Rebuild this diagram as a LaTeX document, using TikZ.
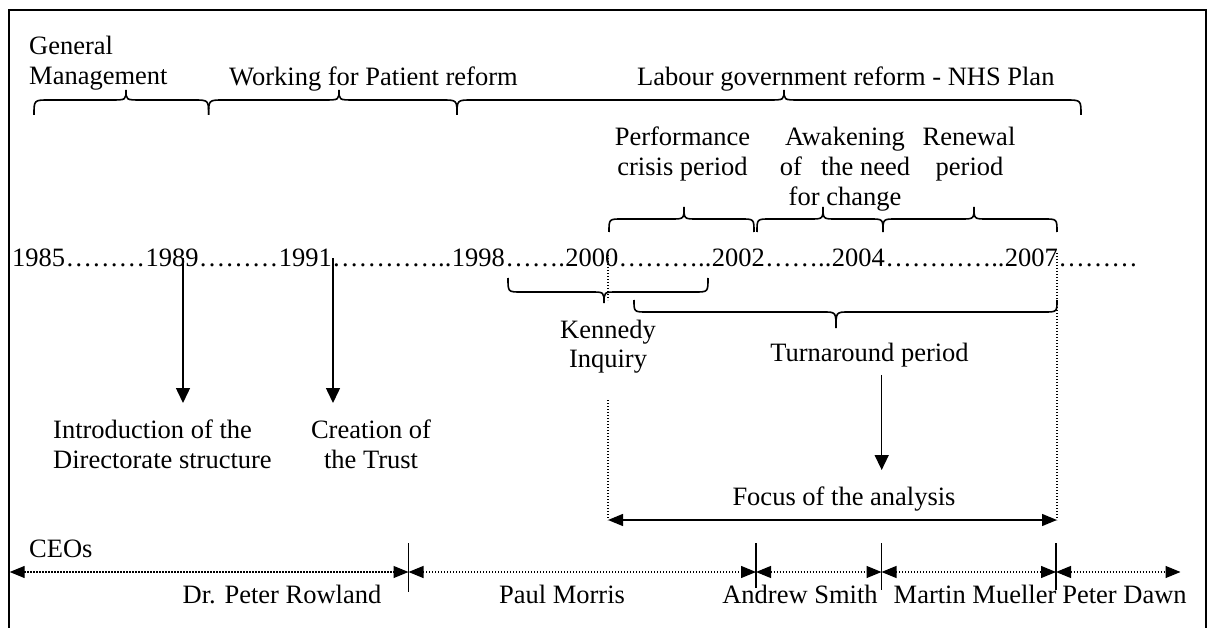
\documentclass[tikz,border=0pt]{standalone}
\usepackage{fontspec}
\setmainfont{Liberation Serif}
\usetikzlibrary{arrows.meta}
\newcommand{\wbrace}[7]{%
  \draw[brc] (#1,#4) .. controls (#1,#5) .. ({#1+#7},#5) -- ({#3-#7},#5)
    .. controls (#3,#5) .. (#3,#6) .. controls (#3,#5) .. ({#3+#7},#5)
    -- ({#2-#7},#5) .. controls (#2,#5) .. (#2,#4);}
\begin{document}
\begin{tikzpicture}[x=1pt, y=-1pt,
  txt/.style={font=\fontsize{26.5}{30}\selectfont, inner sep=0pt, anchor=base},
  ltxt/.style={txt, anchor=base west},
  brc/.style={line width=1.6pt},
  frame/.style={line width=1.6pt},
  arr/.style={line width=1.5pt, -{Triangle[length=15pt,width=14pt]}},
  focus/.style={line width=1.3pt, {Triangle[length=15pt,width=12pt]}-{Triangle[length=15pt,width=12pt]}},
  ceo/.style={line width=1.2pt, dash pattern=on 1.2pt off 1.8pt, {Triangle[length=15pt,width=12pt]}-{Triangle[length=15pt,width=12pt]}},
  guide/.style={line width=1.2pt, dash pattern=on 1.2pt off 1.8pt},
  tick/.style={line width=1.5pt}]
\useasboundingbox (0,0) rectangle (1213,628);
\draw[frame] (9,628) -- (9,10) -- (1206,10) -- (1206,628);
% top level
\node[ltxt] (gen) at (29,55) {General};
\node[ltxt] (mgmt) at (29,85) {Management};
\node[ltxt] (wfp) at (229,86) {Working for Patient reform};
\node[ltxt] (lab) at (637,86) {Labour government reform - NHS Plan};
\wbrace{34}{208.6}{126}{115}{100}{90}{15}
\wbrace{208.6}{457}{339}{115}{100}{90}{15}
\wbrace{457}{1081}{784}{115}{100}{90}{15}
% second level
\node[txt] (perf1) at (682.5,146) {Performance};
\node[txt] (perf2) at (682.5,176) {crisis period};
\node[txt] (awk1) at (845,146) {Awakening};
\node[txt] (awk2) at (845,176) {of\hspace{19pt}the need};
\node[txt] (awk3) at (845,206) {for change};
\node[txt] (ren1) at (969,146) {Renewal};
\node[txt] (ren2) at (969.5,176) {period};
\wbrace{609}{754}{684}{232}{219}{207}{13}
\wbrace{757}{883}{823}{232}{219}{207}{13}
\wbrace{883}{1057}{974}{232}{219}{207}{13}
% year line
\node[ltxt] (y1985) at (12,267) {1985};
\node[ltxt] (d1) at (y1985.base east) {………};
\node[ltxt] (y1989) at (d1.base east) {1989};
\node[ltxt] (d2) at (y1989.base east) {………};
\node[ltxt] (y1991) at (d2.base east) {1991};
\node[ltxt] (d3) at (y1991.base east) {…………..};
\node[ltxt] (y1998) at (d3.base east) {1998};
\node[ltxt] (d4) at (y1998.base east) {…….};
\node[ltxt] (y2000) at (d4.base east) {2000};
\node[ltxt] (d5) at (y2000.base east) {………..};
\node[ltxt] (y2002) at (d5.base east) {2002};
\node[ltxt] (d6) at (y2002.base east) {……..};
\node[ltxt] (y2004) at (d6.base east) {2004};
\node[ltxt] (d7) at (y2004.base east) {…………..};
\node[ltxt] (y2007) at (d7.base east) {2007};
\node[ltxt] (d8) at (y2007.base east) {………};
% lower braces
\wbrace{508}{708}{604}{278}{292}{303}{13}
\wbrace{634}{1057}{836}{300}{312}{328}{13}
\node[txt] (ken1) at (608,338) {Kennedy};
\node[txt] (ken2) at (608,367) {Inquiry};
\node[txt] (turn) at (869.5,361) {Turnaround period};
% focus
\coordinate (f1) at (608,520);
\coordinate (f2) at (1057,520);
\coordinate (g1t) at (608,255);
\coordinate (g1b) at (608,300);
\coordinate (g1c) at (608,400);
\coordinate (g2t) at (1057,253);
\draw[guide] (g1t) -- (g1b);
\draw[guide] (g1c) -- (f1);
\draw[guide] (g2t) -- (f2);
\node[txt] (focus) at (844,505) {Focus of the analysis};
\draw[focus] (f1) -- (f2);
\coordinate (a3e) at (881.7,470);
\draw[arr, shorten <=8pt] (turn.south -| a3e) -- (a3e);
% events
\node[ltxt] (intro1) at (53,438) {Introduction of the};
\node[ltxt] (intro2) at (53,468) {Directorate structure};
\node[txt] (cre1) at (371,438) {Creation of};
\node[txt] (cre2) at (371,468) {the Trust};
\coordinate (a1e) at (183,403);
\coordinate (a2e) at (333,403);
\draw[arr] (y1989.center -| a1e) -- (a1e);
\draw[arr] (y1991.center -| a2e) -- (a2e);
% CEOs
\node[ltxt] (ceos) at (29,557) {CEOs};
\coordinate (c0) at (9.7,572);
\coordinate (c1) at (408.5,572);
\coordinate (c2) at (756,572);
\coordinate (c3) at (881.5,572);
\coordinate (c4) at (1056,572);
\coordinate (c5) at (1180.5,572);
\draw[ceo] (c0) -- (c1);
\draw[ceo] (c1) -- (c2);
\draw[ceo] (c2) -- (c3);
\draw[ceo] (c3) -- (c4);
\draw[ceo] (c4) -- (c5);
\draw[tick] ([yshift=29pt]c1) -- ([yshift=-20pt]c1);
\draw[tick] ([yshift=29pt]c2) -- ([yshift=-16pt]c2);
\draw[tick] ([yshift=29pt]c3) -- ([yshift=-18pt]c3);
\draw[tick] ([yshift=29pt]c4) -- ([yshift=-18pt]c4);
\node[txt] (pr) at (282,603) {Dr. Peter Rowland};
\node[txt] (pm) at (562,603) {Paul Morris};
\node[txt] (as) at (800,603) {Andrew Smith};
\node[txt] (mm) at (975,603) {Martin Mueller};
\node[txt] (pd) at (1124.5,603) {Peter Dawn};
\end{tikzpicture}
\end{document}
